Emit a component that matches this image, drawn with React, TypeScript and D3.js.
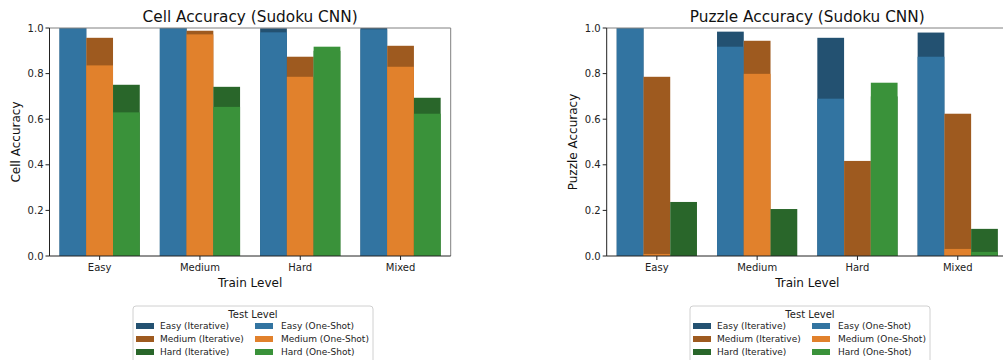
import React from 'react'
import * as d3 from 'd3'

const trainLevels = ['Easy', 'Medium', 'Hard', 'Mixed']
const testLevels = ['Easy', 'Medium', 'Hard']
const yTicks = [0, 0.2, 0.4, 0.6, 0.8, 1.0]

// rows = train level, cols = test level
const cellIterative = [
  [1.0, 0.957, 0.751],
  [1.0, 0.988, 0.742],
  [0.999, 0.874, 0.9],
  [1.0, 0.922, 0.694],
]
const cellOneShot = [
  [1.0, 0.836, 0.63],
  [1.0, 0.972, 0.654],
  [0.981, 0.786, 0.918],
  [0.994, 0.83, 0.624],
]
const puzzleIterative = [
  [1.0, 0.786, 0.237],
  [0.984, 0.944, 0.206],
  [0.957, 0.417, 0.7],
  [0.98, 0.624, 0.119],
]
const puzzleOneShot = [
  [1.0, 0.009, 0.0],
  [0.918, 0.799, 0.0],
  [0.69, 0.0, 0.76],
  [0.874, 0.031, 0.018],
]

const oneShotColors = ['#3274a1', '#e1812c', '#3a923a']
const iterColors = ['#235171', '#9e5a1f', '#29662a']

const FONT = 'DejaVu Sans, sans-serif'
const TOP = 28
const BOTTOM = 256

const Panel = ({ x0, title, ylabel, iterative, oneShot }) => {
  const x1 = x0 + 401.2
  const x = d3.scaleBand().domain(trainLevels).range([x0, x1]).paddingInner(0.2).paddingOuter(0.1)
  const hue = d3.scaleBand().domain(testLevels).range([0, x.bandwidth()])
  const y = d3.scaleLinear().domain([0, 1]).range([BOTTOM, TOP])
  const fmt = d3.format('.1f')
  const cx = (x0 + x1) / 2

  return (
    <g>
      {trainLevels.map((tr, i) =>
        testLevels.map((te, j) => (
          <g key={tr + te}>
            <rect x={x(tr) + hue(te)} width={hue.bandwidth()} y={y(iterative[i][j])}
              height={BOTTOM - y(iterative[i][j])} fill={iterColors[j]} />
            <rect x={x(tr) + hue(te)} width={hue.bandwidth()} y={y(oneShot[i][j])}
              height={BOTTOM - y(oneShot[i][j])} fill={oneShotColors[j]} />
          </g>
        ))
      )}
      <line x1={x0} x2={x1} y1={TOP} y2={TOP} stroke="#808080" strokeWidth={1} />
      <line x1={x1} x2={x1} y1={TOP} y2={BOTTOM} stroke="#808080" strokeWidth={1} />
      <line x1={x0} x2={x0} y1={TOP} y2={BOTTOM} stroke="#222" strokeWidth={1} />
      <line x1={x0} x2={x1} y1={BOTTOM} y2={BOTTOM} stroke="#222" strokeWidth={1} />
      {yTicks.map(t => (
        <g key={t}>
          <line x1={x0 - 4} x2={x0} y1={y(t)} y2={y(t)} stroke="#222" />
          <text x={x0 - 6} y={y(t)} dy="0.35em" textAnchor="end" fontSize={10} fill="#222">{fmt(t)}</text>
        </g>
      ))}
      {trainLevels.map(tr => (
        <g key={tr}>
          <line x1={x(tr) + x.bandwidth() / 2} x2={x(tr) + x.bandwidth() / 2} y1={BOTTOM} y2={BOTTOM + 4} stroke="#222" />
          <text x={x(tr) + x.bandwidth() / 2} y={BOTTOM + 15} textAnchor="middle" fontSize={10} fill="#222">{tr}</text>
        </g>
      ))}
      <text x={cx} y={22} textAnchor="middle" fontSize={15.3} fill="#111">{title}</text>
      <text x={cx} y={287} textAnchor="middle" fontSize={12} fill="#111">Train Level</text>
      <text transform={`translate(${x0 - 34},${(TOP + BOTTOM) / 2}) rotate(-90)`} textAnchor="middle"
        dy="0.35em" fontSize={12} fill="#111">{ylabel}</text>
    </g>
  )
}

const Legend = ({ lx }) => {
  const rows = testLevels
  return (
    <g>
      <rect x={lx} y={306} width={240} height={60} rx={3} fill="white" fillOpacity={0.8} stroke="#d0d0d0" />
      <text x={lx + 120} y={314} dy="0.35em" textAnchor="middle" fontSize={10} fill="#222">Test Level</text>
      {rows.map((r, j) => (
        <g key={r}>
          <rect x={lx + 3} y={323 + j * 13} width={18} height={6} fill={iterColors[j]} />
          <text x={lx + 27} y={326 + j * 13} dy="0.35em" fontSize={9} fill="#222">{r} (Iterative)</text>
          <rect x={lx + 122} y={323 + j * 13} width={18} height={6} fill={oneShotColors[j]} />
          <text x={lx + 148} y={326 + j * 13} dy="0.35em" fontSize={9} fill="#222">{r} (One-Shot)</text>
        </g>
      ))}
    </g>
  )
}

export default function App() {
  return (
    <svg width={1003} height={360} style={{ position: 'absolute', left: 0, top: 0, fontFamily: FONT }}>
      <rect width={1003} height={360} fill="white" />
      <Panel x0={49.5} title="Cell Accuracy (Sudoku CNN)" ylabel="Cell Accuracy"
        iterative={cellIterative} oneShot={cellOneShot} />
      <Panel x0={606.7} title="Puzzle Accuracy (Sudoku CNN)" ylabel="Puzzle Accuracy"
        iterative={puzzleIterative} oneShot={puzzleOneShot} />
      <Legend lx={133} />
      <Legend lx={690} />
    </svg>
  )
}
